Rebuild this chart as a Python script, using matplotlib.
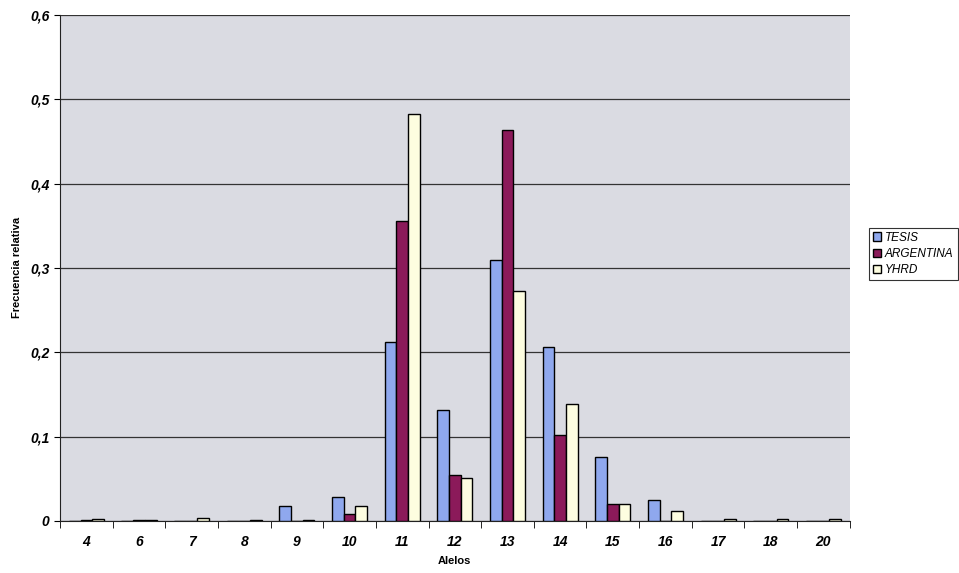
import numpy as np
import matplotlib.pyplot as plt

plt.rcParams['font.family'] = ['Liberation Sans', 'DejaVu Sans']

alelos = ['4', '6', '7', '8', '9', '10', '11', '12', '13', '14', '15', '16', '17', '18', '20']
tesis = [0, 0, 0, 0, 0.018, 0.029, 0.212, 0.132, 0.310, 0.206, 0.076, 0.025, 0, 0, 0]
argentina = [0.001, 0.001, 0, 0, 0, 0.008, 0.356, 0.055, 0.464, 0.102, 0.020, 0, 0, 0, 0]
yhrd = [0.002, 0.001, 0.003, 0.001, 0.001, 0.018, 0.482, 0.051, 0.273, 0.139, 0.020, 0.012, 0.002, 0.002, 0.002]

fig = plt.figure(figsize=(9.59, 5.73), dpi=100)
ax = fig.add_axes([0.0626, 0.0908, 0.8234, 0.8832])
ax.set_facecolor('#dadbe2')

x = np.arange(len(alelos))
w = 0.222
ax.bar(x - w, tesis, w, color='#8fa8ee', edgecolor='black', linewidth=1.0, label='TESIS', zorder=3)
ax.bar(x, argentina, w, color='#8b1a5a', edgecolor='black', linewidth=1.0, label='ARGENTINA', zorder=3)
ax.bar(x + w, yhrd, w, color='#fdfde0', edgecolor='black', linewidth=1.0, label='YHRD', zorder=3)

ax.set_xlim(-0.5, len(alelos) - 0.5)
ax.set_ylim(0, 0.6)
ax.set_yticks(np.arange(0, 0.61, 0.1))
ax.set_yticklabels(['0', '0,1', '0,2', '0,3', '0,4', '0,5', '0,6'],
                   fontsize=10, fontstyle='italic', fontweight='bold')
ax.yaxis.grid(True, color='#333333', linewidth=0.9, zorder=1)

ax.set_xticks(x)
ax.set_xticklabels(alelos, fontsize=10, fontstyle='italic', fontweight='bold')
ax.tick_params(axis='x', length=0, pad=10)
ax.set_xticks(np.arange(-0.5, len(alelos)), minor=True)
ax.tick_params(axis='x', which='minor', length=5, direction='out')
ax.tick_params(axis='y', length=4, direction='out')

for s in ['top', 'right']:
    ax.spines[s].set_visible(False)
ax.spines['left'].set_color('#222222')
ax.spines['bottom'].set_color('#222222')

ax.set_ylabel('Frecuencia relativa', fontsize=8, fontweight='bold', labelpad=6)
ax.set_xlabel('Alelos', fontsize=8, fontweight='bold', labelpad=5)

leg = fig.legend(loc='center left', bbox_to_anchor=(0.9, 0.557), frameon=True,
                 fancybox=False, edgecolor='black', handlelength=0.7, handleheight=0.7,
                 handletextpad=0.3, borderpad=0.35, labelspacing=0.35,
                 prop={'size': 8.5, 'style': 'italic'})
leg.get_frame().set_linewidth(0.8)

fig.savefig('out.png', dpi=100, facecolor='white')
